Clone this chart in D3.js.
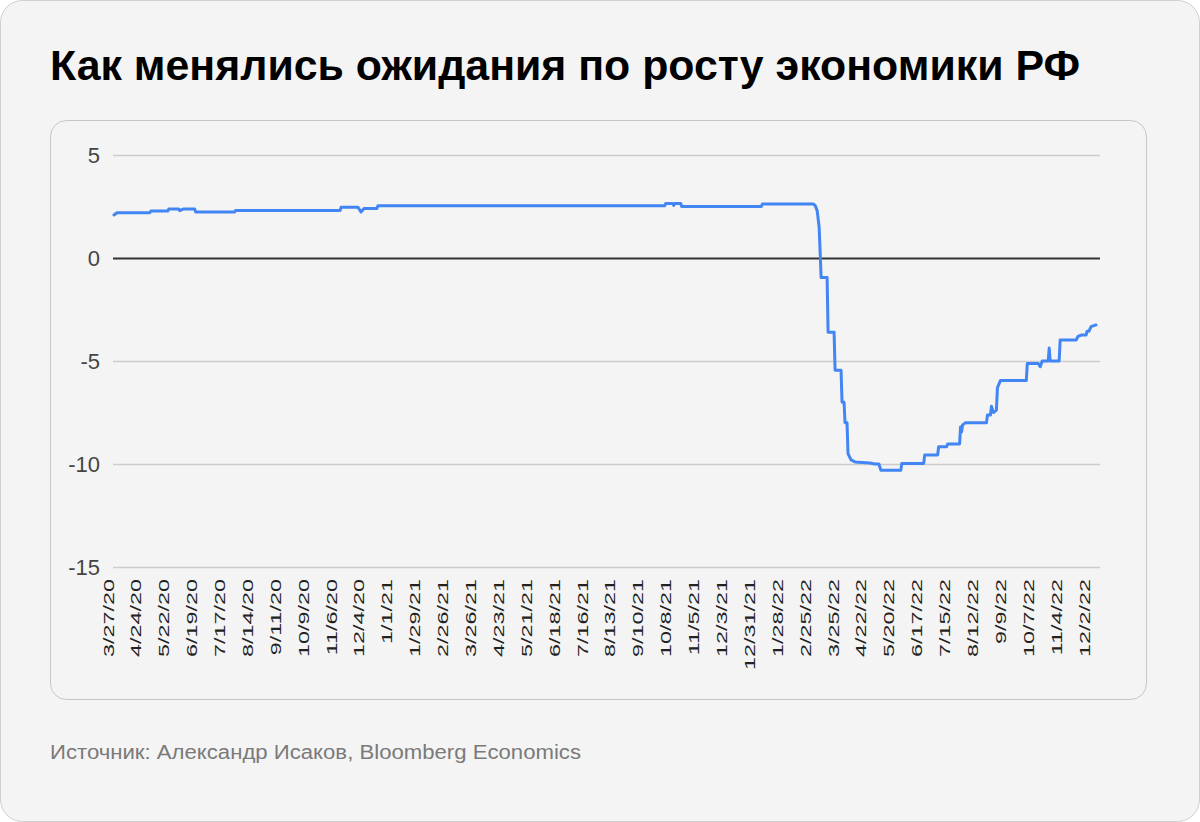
<!DOCTYPE html>
<html><head><meta charset="utf-8">
<script src="https://cdn.jsdelivr.net/npm/d3@7/dist/d3.min.js"></script>
<style>
html,body{margin:0;padding:0;background:#fff;}
svg{display:block;}
</style></head>
<body>
<svg id="chart" width="1200" height="822"></svg>
<script>
const titleText = "Как менялись ожидания по росту экономики РФ";
const sourceText = "Источник: Александр Исаков, Bloomberg Economics";

const yTickValues = [5, 0, -5, -10, -15];

const xTickLabels = ["3/27/20","4/24/20","5/22/20","6/19/20","7/17/20","8/14/20","9/11/20","10/9/20","11/6/20","12/4/20",
  "1/1/21","1/29/21","2/26/21","3/26/21","4/23/21","5/21/21","6/18/21","7/16/21","8/13/21","9/10/21","10/8/21","11/5/21","12/3/21","12/31/21",
  "1/28/22","2/25/22","3/25/22","4/22/22","5/20/22","6/17/22","7/15/22","8/12/22","9/9/22","10/7/22","11/4/22","12/2/22"];

const seriesDates = ["2020-03-27","2020-03-30","2020-05-02","2020-05-03","2020-05-20","2020-05-21","2020-05-31","2020-06-01","2020-06-05","2020-06-16",
  "2020-06-17","2020-07-26","2020-07-27","2020-11-09","2020-11-10","2020-11-27","2020-11-30","2020-12-03","2020-12-16","2020-12-17",
  "2021-10-01","2021-10-02","2021-10-09","2021-10-10","2021-10-11","2021-10-17","2021-10-18","2022-01-06","2022-01-07","2022-02-27",
  "2022-03-01","2022-03-03","2022-03-05","2022-03-07","2022-03-13","2022-03-14","2022-03-20","2022-03-21","2022-03-27","2022-03-28",
  "2022-03-30","2022-03-31","2022-04-02","2022-04-03","2022-04-06","2022-04-10","2022-04-25","2022-04-30","2022-05-04","2022-05-06",
  "2022-05-26","2022-05-27","2022-06-18","2022-06-19","2022-07-02","2022-07-03","2022-07-11","2022-07-12","2022-07-24","2022-07-25",
  "2022-07-26","2022-07-27","2022-07-30","2022-08-20","2022-08-21","2022-08-24","2022-08-25","2022-08-27","2022-08-30","2022-08-31",
  "2022-09-03","2022-09-29","2022-09-30","2022-10-11","2022-10-13","2022-10-15","2022-10-21","2022-10-22","2022-10-23","2022-11-01",
  "2022-11-02","2022-11-18","2022-11-20","2022-11-23","2022-11-28","2022-11-29","2022-12-01","2022-12-03","2022-12-08"];
const seriesValues = [2.09,2.2,2.2,2.28,2.28,2.38,2.38,2.3,2.38,2.38,
  2.23,2.23,2.3,2.3,2.46,2.46,2.23,2.4,2.4,2.54,
  2.54,2.65,2.65,2.55,2.65,2.65,2.5,2.5,2.62,2.62,
  2.55,2.3,1.5,-0.95,-0.95,-3.6,-3.6,-5.45,-5.45,-7.0,
  -7.0,-8.0,-8.0,-9.5,-9.8,-9.9,-9.95,-10.0,-10.0,-10.3,
  -10.3,-9.97,-9.97,-9.56,-9.56,-9.16,-9.16,-9.03,-9.03,-8.2,
  -8.45,-8.1,-8.0,-8.0,-7.62,-7.62,-7.2,-7.5,-7.38,-6.3,
  -5.95,-5.95,-5.12,-5.12,-5.28,-5.0,-5.0,-4.37,-5.0,-5.0,
  -3.98,-3.98,-3.8,-3.74,-3.74,-3.55,-3.55,-3.33,-3.25];

const parseISO = d3.timeParse("%Y-%m-%d");
const parseTick = d3.timeParse("%m/%d/%y");
const data = seriesDates.map((d, i) => ({date: parseISO(d), value: seriesValues[i]}));
const tickDates = xTickLabels.map(parseTick);

const svg = d3.select("#chart");

// outer card
svg.append("rect").attr("x",0.5).attr("y",0.5).attr("width",1199).attr("height",821)
  .attr("rx",22).attr("fill","#f4f4f4").attr("stroke","#cfcfcf");

// title
svg.append("text").attr("x",50).attr("y",80)
  .attr("font-family","'Liberation Sans', Arial, sans-serif").attr("font-weight","bold")
  .attr("font-size",42).attr("fill","#000")
  .attr("textLength",1030).attr("lengthAdjust","spacingAndGlyphs")
  .text(titleText);

// inner card
svg.append("rect").attr("x",50.5).attr("y",120.5).attr("width",1096).attr("height",579)
  .attr("rx",16).attr("fill","#f4f4f4").attr("stroke","#c6c6c6");

// source
svg.append("text").attr("x",50).attr("y",759)
  .attr("font-family","'Liberation Sans', Arial, sans-serif")
  .attr("font-size",20).attr("fill","#7a7a7a")
  .attr("textLength",531).attr("lengthAdjust","spacingAndGlyphs")
  .text(sourceText);

// scales
const startDate = parseTick("3/27/20");
const endDate = d3.timeDay.offset(startDate, 990);
const x = d3.scaleTime().domain([startDate, endDate]).range([114, 1100]);
const y = d3.scaleLinear().domain([-15, 5]).range([567, 155]);

// gridlines + y labels via axis
const yAxis = d3.axisLeft(y).tickValues(yTickValues).tickSize(-(1100-113)).tickFormat(d3.format("d"));
const gy = svg.append("g").attr("transform","translate(113,0)").call(yAxis);
gy.select(".domain").remove();
gy.selectAll(".tick line").attr("stroke", d => d === 0 ? "#333" : "#cccccc")
  .attr("stroke-width", d => d === 0 ? 2 : 1.5);
gy.selectAll(".tick text")
  .attr("x",-13).attr("dy","0.36em")
  .attr("font-family","'Liberation Sans', Arial, sans-serif").attr("font-size",22)
  .attr("fill","#444").text(d => d3.format("d")(d).replace("−","-"));

// x axis labels via axis
const xAxis = d3.axisBottom(x).tickValues(tickDates).tickSize(0).tickFormat((d,i) => xTickLabels[i]);
const gx = svg.append("g").attr("transform","translate(0,579)").call(xAxis);
gx.select(".domain").remove();
gx.selectAll(".tick text")
  .attr("x",0).attr("y",0).attr("dy",null)
  .attr("text-anchor","end")
  .attr("font-family","'Liberation Sans', Arial, sans-serif").attr("font-size",14)
  .attr("fill","#222")
  .attr("transform","translate(-1,0) rotate(-90) scale(1.67,1)");

// line
const line = d3.line().x(d => x(d.date)).y(d => y(d.value));
svg.append("path").datum(data)
  .attr("d", line).attr("fill","none")
  .attr("stroke","#4285f4").attr("stroke-width",3)
  .attr("stroke-linejoin","round").attr("stroke-linecap","round");
</script>
</body></html>
